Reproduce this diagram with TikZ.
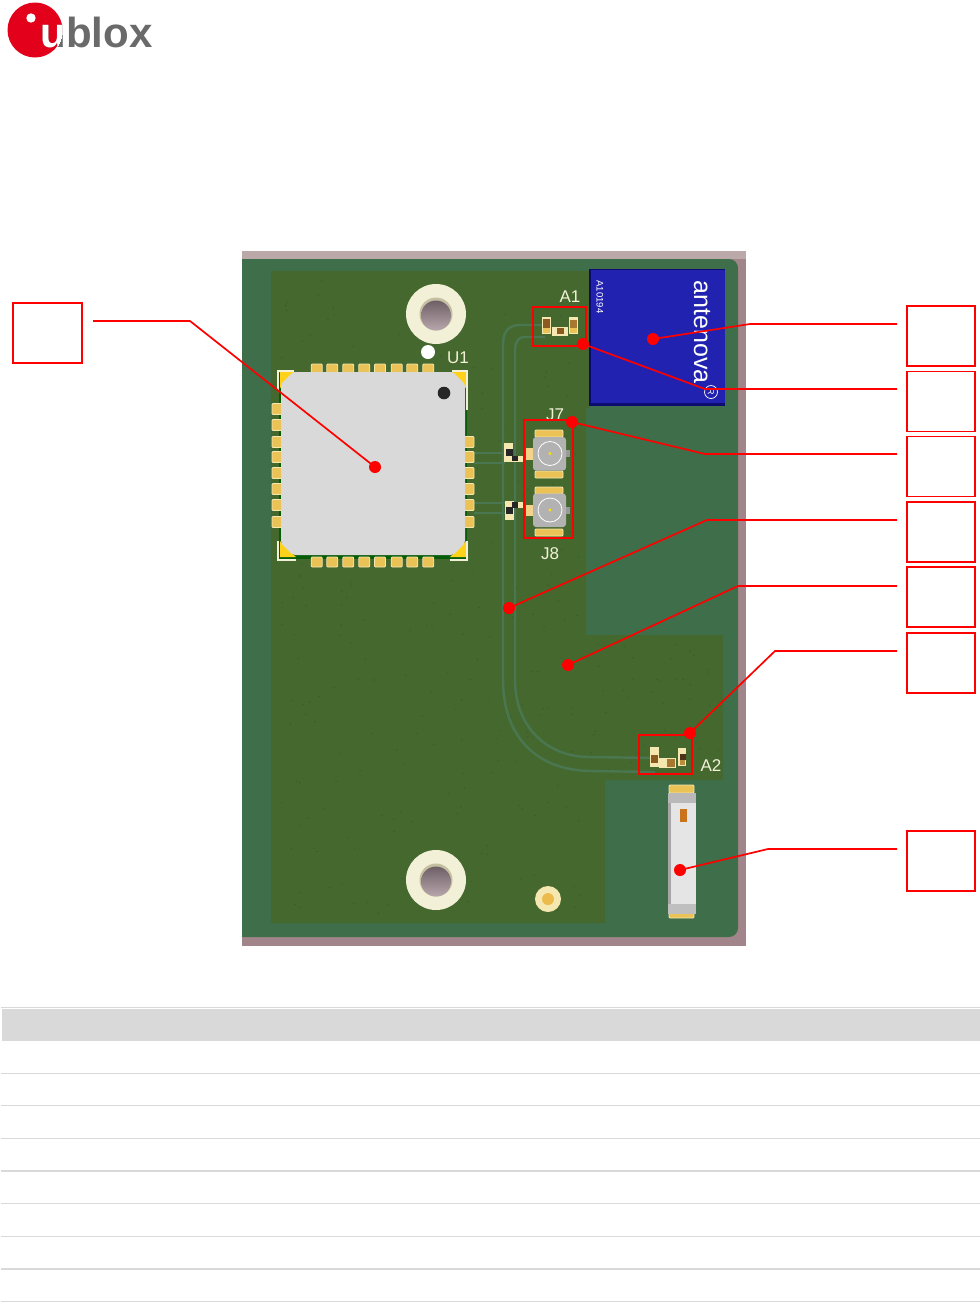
\documentclass[tikz,border=0pt]{standalone}
\usepackage{fontspec}
\setmainfont{Liberation Sans}
\definecolor{boardedge}{HTML}{A2858A}
\definecolor{boardtop}{HTML}{BBA9A9}
\definecolor{lightgreen}{HTML}{3F6F4A}
\definecolor{darkgreen}{HTML}{45682E}
\definecolor{tracegreen}{HTML}{4A7752}
\definecolor{viadot}{HTML}{2F5A2A}
\definecolor{padgold}{HTML}{EBC255}
\definecolor{padedge}{HTML}{F5E7B0}
\definecolor{cream}{HTML}{F3F0D8}
\definecolor{shield}{HTML}{D9D9D9}
\definecolor{antblue}{HTML}{2222B0}
\definecolor{antdark}{HTML}{0B0B70}
\definecolor{connred}{HTML}{FF0000}
\definecolor{ublred}{HTML}{E2001A}
\definecolor{ublgray}{HTML}{6A6A6A}
\definecolor{rulegray}{HTML}{D9D9D9}
\definecolor{cornergold}{HTML}{FFD21A}
\definecolor{partbrown}{HTML}{8A5A20}
\definecolor{holetop}{HTML}{6E5F66}
\definecolor{holebot}{HTML}{B8A8AD}
\definecolor{holerim}{HTML}{C4BFA0}
\tikzset{
 x=1pt,y=-1pt,
 calloutbox/.style={draw=connred,line width=1.4pt,fill=white,minimum width=68pt,minimum height=60pt,inner sep=0,outer sep=0},
 leader/.style={draw=connred,line width=1.7pt},
 markbox/.style={draw=connred,line width=1.6pt},
 reddot/.style={fill=connred,circle,minimum size=12pt,inner sep=0},
 pad/.style={fill=padgold,draw=padedge,line width=.8pt,rounded corners=1pt},
 silk/.style={text=cream,font=\fontsize{17}{17}\selectfont,inner sep=0},
 silkline/.style={draw=cream,line width=1.3pt},
 trace/.style={draw=tracegreen,line width=2.4pt},
 rulethin/.style={draw=rulegray,line width=1.1pt},
 rulethick/.style={draw=rulegray,line width=1.7pt},
 logofont/.style={anchor=base west,inner sep=0,font=\bfseries\fontsize{42}{42}\selectfont},
}
\begin{document}
\begin{tikzpicture}
\useasboundingbox (0,0) rectangle (980,1302);
\fill[white] (0,0) rectangle (980,1302);

% ---------- logo
\fill[ublred] (35,30) circle (27.5);
\fill[white] (31,18) circle (4.7);
\node[logofont,text=ublgray] (logotext) at (66,47.5) {blox};
\node[logofont,text=ublgray] (logou) at (40,47.5) {u};
\begin{scope}
 \clip (35,30) circle (27.5);
 \node[logofont,text=white] (logouw) at (40,47.5) {u};
\end{scope}

% ---------- board
\fill[boardedge] (242,251) rectangle (746,946);
\fill[boardtop] (242,251) rectangle (746,259);
\begin{scope}
 \clip (242,259) rectangle (746,946);
 \fill[lightgreen,rounded corners=9pt] (225,259) rectangle (738,937);
\end{scope}
\fill[darkgreen] (271,271) -- (589,271) -- (589,408) -- (586,408) -- (586,635) -- (723,635) -- (723,780) -- (605,780) -- (605,923) -- (271,923) -- cycle;

% via stitching
\pgfmathsetseed{42}
\foreach \i in {1,...,260}{
 \pgfmathsetmacro{\vx}{280+rnd*300}
 \pgfmathsetmacro{\vy}{280+rnd*635}
 \fill[viadot,opacity=.7] (\vx,\vy) circle (.8);
}
\foreach \i in {1,...,40}{
 \pgfmathsetmacro{\vx}{590+rnd*130}
 \pgfmathsetmacro{\vy}{640+rnd*135}
 \fill[viadot,opacity=.7] (\vx,\vy) circle (.8);
}

% traces
\draw[trace] (545,325) -- (520,325) .. controls (508,325) and (503,332) .. (503,345) -- (503,680) .. controls (503,735) and (535,770) .. (590,771) -- (655,772);
\draw[trace] (545,337) -- (525,337) .. controls (518,337) and (515,342) .. (515,350) -- (515,680) .. controls (515,725) and (545,757) .. (590,757) -- (655,758);
\draw[trace,line width=1.4pt] (474,453) -- (507,453);
\draw[trace,line width=1.4pt] (474,463) -- (505,463);
\draw[trace,line width=1.4pt] (474,503) -- (505,503);
\draw[trace,line width=1.4pt] (474,513) -- (507,513);

% mounting holes
\foreach \hy in {314,880}{
 \fill[cream] (436,\hy) circle (30);
 \fill[holerim] (436,\hy) circle (16.5);
 \shade[top color=holetop,bottom color=holebot] (436,\hy+1.5) circle (15);
}
\fill[padedge] (548,899) circle (13);
\fill[padgold!90!orange] (548,899) circle (6);
\fill[white] (428,352) circle (7);

% ---------- module U1
\fill[green!35!black!90!lightgreen] (279,373) rectangle (467,559);
\foreach \px in {316.7,332.3,348.3,364.3,380,396.7,412.3,428.3}{
 \draw[pad] (\px-5.5,364) rectangle (\px+5.5,373);
 \draw[pad] (\px-5.5,557) rectangle (\px+5.5,567);
}
\foreach \py in {409,425,442,457,473,489,505,522}{
 \draw[pad] (272,\py-5.5) rectangle (282,\py+5.5);
}
\foreach \py in {442,457,473,489,505,522}{
 \draw[pad] (464,\py-5.5) rectangle (474,\py+5.5);
}
\fill[cornergold] (280,372) -- (296,372) -- (280,388) -- cycle;
\fill[cornergold] (466,372) -- (450,372) -- (466,388) -- cycle;
\fill[cornergold] (280,557) -- (296,557) -- (280,541) -- cycle;
\fill[cornergold] (466,557) -- (450,557) -- (466,541) -- cycle;
\fill[shield,rounded corners=2pt] (293,372) -- (453,372) -- (465,384) -- (465,543) -- (453,555) -- (293,555) -- (281,543) -- (281,384) -- cycle;
\fill[black!85] (444,393) circle (6.3);
\draw[silkline] (278,391) -- (278,371) -- (294,371);
\draw[silkline] (452,371) -- (467,371) -- (467,410);
\draw[silkline] (278,541) -- (278,560) -- (296,560);
\draw[silkline] (450,560) -- (467,560) -- (467,541);

% ---------- RF connectors
\foreach \cy/\ptop/\pbot in {453.5/430/471,510/487/529}{
 \draw[pad] (535,\ptop) rectangle (563,\ptop+7);
 \draw[pad] (535,\pbot) rectangle (563,\pbot+7);
 \fill[padgold!70!white] (526,\cy-5.5) rectangle (534,\cy+6);
 \fill[gray!80] (565,\cy-3.5) rectangle (570,\cy+3.5);
 \fill[black!30,rounded corners=3pt] (533,\cy-16.5) rectangle (566,\cy+17);
 \draw[white,line width=.8pt] (550,\cy) circle (12);
 \fill[yellow!80!orange] (550,\cy) circle (1.6);
}
% small parts beside the connectors
\fill[padedge] (504,443) rectangle (513,462);
\fill[padedge] (513,456) rectangle (523,462);
\fill[black!85] (506,449) rectangle (513,456);
\fill[black!85] (512,456) rectangle (518,461);
\fill[padedge] (505,501) rectangle (514,520);
\fill[padedge] (514,502) rectangle (523,508);
\fill[black!85] (506,507) rectangle (513,514);
\fill[black!85] (512,502) rectangle (518,508);

% A1 parts
\fill[padedge] (542,317) rectangle (551,334);
\fill[partbrown] (543,319) rectangle (550,328);
\fill[padgold] (543,328) rectangle (550,333);
\fill[padedge] (552,327) rectangle (568,336);
\fill[partbrown] (557,328) rectangle (564,334);
\fill[padedge] (569,317) rectangle (578,334);
\fill[partbrown!70!padgold] (570,320) rectangle (577,328);
\fill[padgold] (570,328) rectangle (577,333);
% A2 parts
\fill[padedge] (650,747) rectangle (659,767);
\fill[partbrown] (651,755) rectangle (658,763);
\fill[padedge] (659,758) rectangle (676,768);
\fill[partbrown!70!padgold] (667,759) rectangle (675,767);
\fill[padedge] (678,748) rectangle (686,766);
\fill[black!60!brown] (680,754) rectangle (686,760);
\fill[partbrown!50!padgold] (680,760) rectangle (685,765);

% ---------- antenna chip
\fill[antdark] (589,269) rectangle (725,406);
\fill[antblue] (591,270) rectangle (725,403);
\node[text=white,rotate=-90,inner sep=0,font=\fontsize{25}{25}\selectfont] (antname) at (702,332) {antenova};
\draw[white,line width=.7pt] (711,392) circle (6.5);
\node[text=white,inner sep=0,rotate=-90,font=\fontsize{9}{9}\selectfont] (antreg) at (711,392) {R};
\node[text=white,rotate=-90,inner sep=0,font=\fontsize{9.5}{9.5}\selectfont] (antcode) at (600,297) {A10194};

% ---------- SMD at the lower right
\draw[pad] (669,785) rectangle (694,793);
\draw[pad] (669,912) rectangle (694,918);
\fill[black!10] (668,793) rectangle (696,914);
\fill[gray!70] (668,793) rectangle (671,914);
\fill[gray!55] (668,793) rectangle (696,803);
\fill[gray!50] (668,904) rectangle (696,914);
\fill[orange!50!brown!90!black] (680,809) rectangle (687,822);

% ---------- silkscreen labels
\node[silk] (lblaone) at (570,297) {A1};
\node[silk] (lblu) at (458,358) {U1};
\node[silk] (lbljs) at (555,415) {J7};
\node[silk] (lbljc) at (550,554) {J8};
\node[silk] (lblatwo) at (711,766) {A2};

% ---------- red marking boxes
\draw[markbox] (533,307) rectangle (586,346);
\draw[markbox] (524,420) rectangle (573,538);
\draw[markbox] (639,735) rectangle (692,774);

% ---------- callouts
\node[calloutbox,minimum width=69pt] (c0) at (47.5,333) {};
\node[calloutbox] (c1) at (941,336) {};
\node[calloutbox] (c2) at (941,401.5) {};
\node[calloutbox] (c3) at (941,466.5) {};
\node[calloutbox] (c4) at (941,532) {};
\node[calloutbox] (c5) at (941,597) {};
\node[calloutbox] (c6) at (941,663) {};
\node[calloutbox] (c7) at (941,861) {};

\node[reddot] (d0) at (375,467) {};
\node[reddot] (d1) at (653,339) {};
\node[reddot] (d2) at (583,344) {};
\node[reddot] (d3) at (572,422) {};
\node[reddot] (d4) at (509,608) {};
\node[reddot] (d5) at (568,665) {};
\node[reddot] (d6) at (690,733) {};
\node[reddot] (d7) at (680,870) {};

\coordinate (s0) at (93,321);   \coordinate (e0) at (190,321);
\coordinate (s1) at (897,324);  \coordinate (e1) at (750,324);
\coordinate (s2) at (897,389);  \coordinate (e2) at (705,389);
\coordinate (s3) at (897,454);  \coordinate (e3) at (705,454);
\coordinate (s4) at (897,520);  \coordinate (e4) at (707,520);
\coordinate (s5) at (897,586);  \coordinate (e5) at (738,586);
\coordinate (s6) at (897,651);  \coordinate (e6) at (775,651);
\coordinate (s7) at (897,849);  \coordinate (e7) at (768,849);
\foreach \n in {0,...,7}{
 \draw[leader] (s\n) -- (e\n) -- (d\n.center);
}

% ---------- table
\fill[rulegray] (2,1009) rectangle (980,1041);
\draw[rulethin] (1,1007.5) -- (980,1007.5);
\draw[rulethick] (1,1073.5) -- (980,1073.5);
\draw[rulethin] (1,1105.5) -- (980,1105.5);
\draw[rulethin] (1,1138.5) -- (980,1138.5);
\draw[rulethick] (1,1171) -- (980,1171);
\draw[rulethin] (1,1203.5) -- (980,1203.5);
\draw[rulethin] (1,1236.5) -- (980,1236.5);
\draw[rulethick] (1,1269) -- (980,1269);
\draw[rulethin] (1,1301.5) -- (980,1301.5);
\end{tikzpicture}
\end{document}
